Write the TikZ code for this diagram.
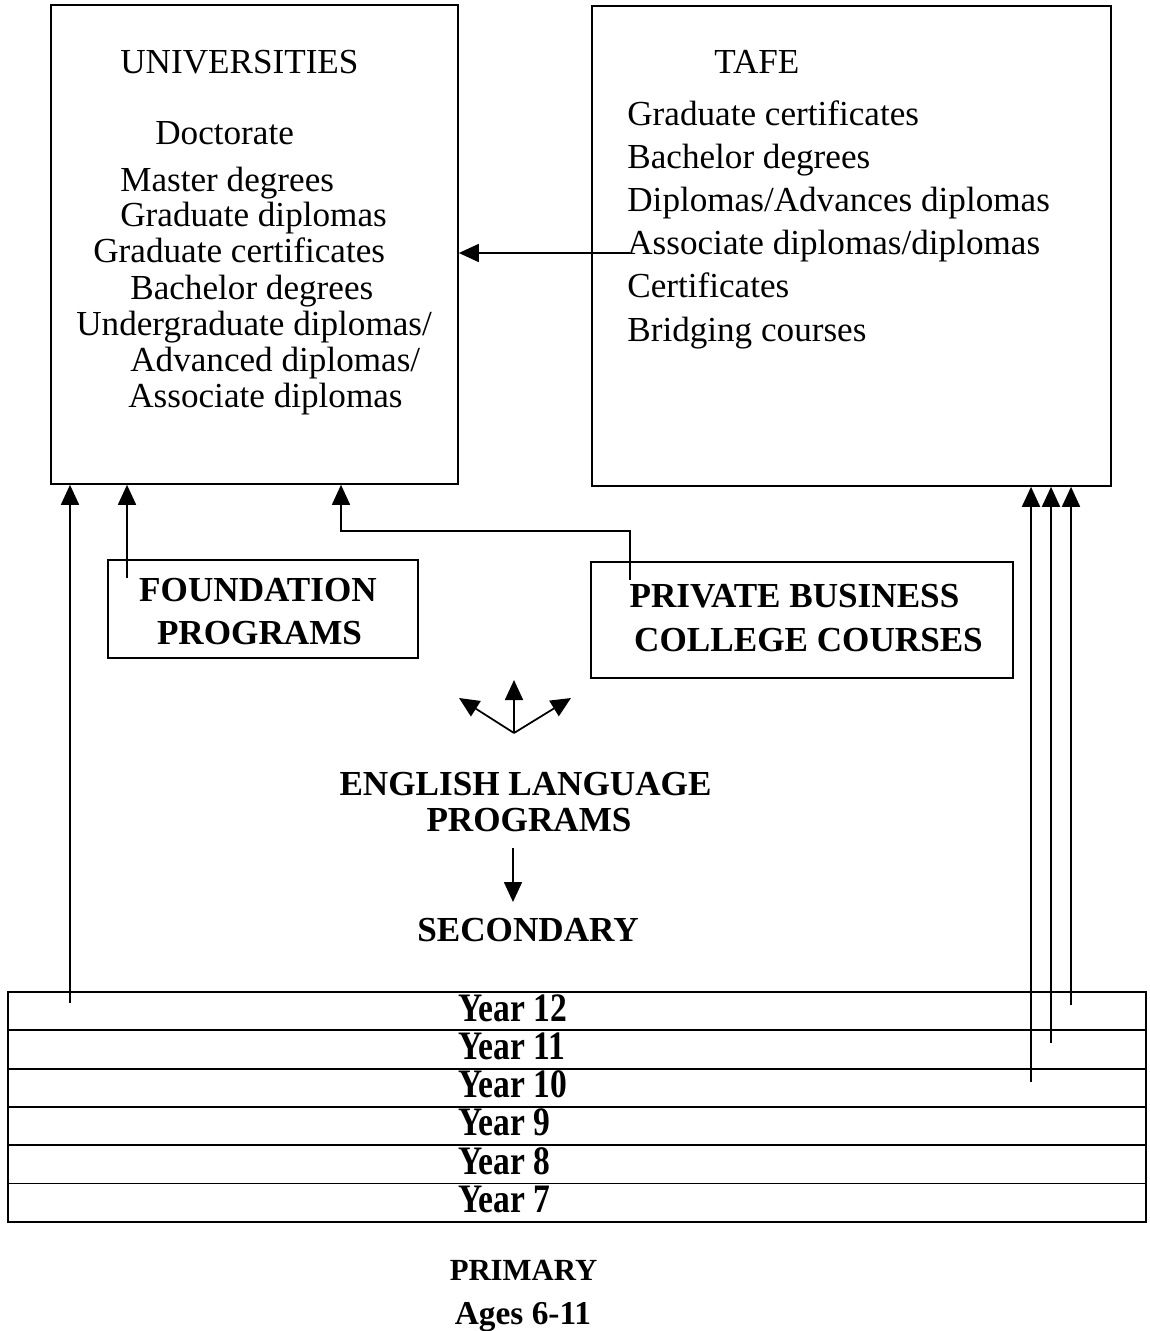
\documentclass[tikz,border=0pt]{standalone}
\usepackage{fontspec}
\setmainfont{Liberation Serif}
\usetikzlibrary{arrows.meta}

\tikzset{every picture/.append style={x=0.02cm, y=-0.02cm}}
\tikzset{
  box/.style={draw, line width=1pt, inner sep=0pt},
  txt/.style={inner sep=0pt, font=\fontsize{20}{24}\selectfont},
  btxt/.style={inner sep=0pt, font=\fontsize{20}{24}\selectfont\bfseries},
  yeartxt/.style={inner sep=0pt, font=\fontsize{23}{26}\selectfont\bfseries},
  arr/.style={line width=1pt, -{Triangle[length=0.4cm, width=0.36cm]}},
}

\begin{document}
\begin{tikzpicture}
  \useasboundingbox (0,0) rectangle (1149,1331);
  % boxes
  \node[box, minimum width=8.14cm, minimum height=9.58cm] (uni) at (254.5,244.5) {};
  \node[box, minimum width=10.38cm, minimum height=9.6cm] (tafe) at (851.5,246) {};
  \node[box, minimum width=6.2cm, minimum height=1.96cm] (found) at (263,609) {};
  \node[box, minimum width=8.44cm, minimum height=2.32cm] (pbc) at (802,620) {};

  % universities
  \node[txt, anchor=mid west] (unihead) at (120,69) {UNIVERSITIES};
  \node[txt, anchor=mid west] (u1) at (155,140) {Doctorate};
  \node[txt, anchor=mid west] (u2) at (120,187) {Master degrees};
  \node[txt, anchor=mid west] (u3) at (120,222) {Graduate diplomas};
  \node[txt, anchor=mid west] (u4) at (93,258) {Graduate certificates};
  \node[txt, anchor=mid west] (u5) at (130,295) {Bachelor degrees};
  \node[txt, anchor=mid west] (u6) at (76,331) {Undergraduate diplomas/};
  \node[txt, anchor=mid west] (u7) at (130,367) {Advanced diplomas/};
  \node[txt, anchor=mid west] (u8) at (128,403) {Associate diplomas};

  % tafe
  \node[txt, anchor=mid west] (tafehead) at (714,69) {TAFE};
  \foreach \t [count=\i from 0] in {Graduate certificates, Bachelor degrees,
      Diplomas/Advances diplomas, Associate diplomas/diplomas, Certificates,
      Bridging courses}
    \node[txt, anchor=mid west] (t\i) at (627,{121+43.2*\i}) {\t};

  % bold labels
  \node[btxt, anchor=mid] (f1) at (258,597) {FOUNDATION};
  \node[btxt, anchor=mid] (f2) at (259.5,640) {PROGRAMS};
  \node[btxt, anchor=mid] (p1) at (794.5,603) {PRIVATE BUSINESS};
  \node[btxt, anchor=mid] (p2) at (808.5,647) {COLLEGE COURSES};
  \node[btxt, anchor=mid] (e1) at (525.5,791) {ENGLISH LANGUAGE};
  \node[btxt, anchor=mid] (e2) at (529,827) {PROGRAMS};
  \node[btxt, anchor=mid] (sec) at (528,937) {SECONDARY};
  \node[btxt, anchor=mid, font=\fontsize{17.5}{20}\selectfont\bfseries] (prim) at (523.5,1276) {PRIMARY};
  \node[btxt, anchor=mid, font=\fontsize{19}{22}\selectfont\bfseries] (ages) at (523,1320) {Ages 6-11};

  % years
  \foreach \n [count=\i from 0] in {12,11,10,9,8,7}{
    \node[box, minimum width=22.76cm, minimum height=0.766cm] (y\n) at (577,{1011.2+38.3*\i}) {};
    \node[yeartxt, anchor=base west] (l\n) at (458,{1021+38.3*\i}) {\scalebox{0.83}[1]{Year \n}};
  }

  % arrows into universities
  \coordinate (s12) at (70,1003);
  \draw[arr] (s12) -- (s12 |- uni.south);
  \coordinate (sf) at (127,578);
  \draw[arr] (sf) -- (sf |- uni.south);
  \coordinate (sp) at (630,580);
  \coordinate (bend) at (341,531);
  \draw[arr] (sp) |- (bend) -- (bend |- uni.south);
  \coordinate (st) at (630,253);
  \draw[arr] (st) -- (st -| uni.east);

  % arrows into tafe
  \coordinate (r10) at (1031,1082);
  \coordinate (r11) at (1051,1043);
  \coordinate (r12) at (1071,1005);
  \foreach \c in {r10,r11,r12}
    \draw[arr] (\c) -- (\c |- tafe.south);

  % english language arrows
  \coordinate (hub) at (514,733);
  \coordinate (up) at (514,680);
  \coordinate (ul) at (459,698);
  \coordinate (ur) at (571,698);
  \foreach \c in {up,ul,ur}
    \draw[arr] (hub) -- (\c);
  \coordinate (dtop) at (513,848);
  \coordinate (dbot) at (513,902);
  \draw[arr] (dtop) -- (dbot);
\end{tikzpicture}
\end{document}
